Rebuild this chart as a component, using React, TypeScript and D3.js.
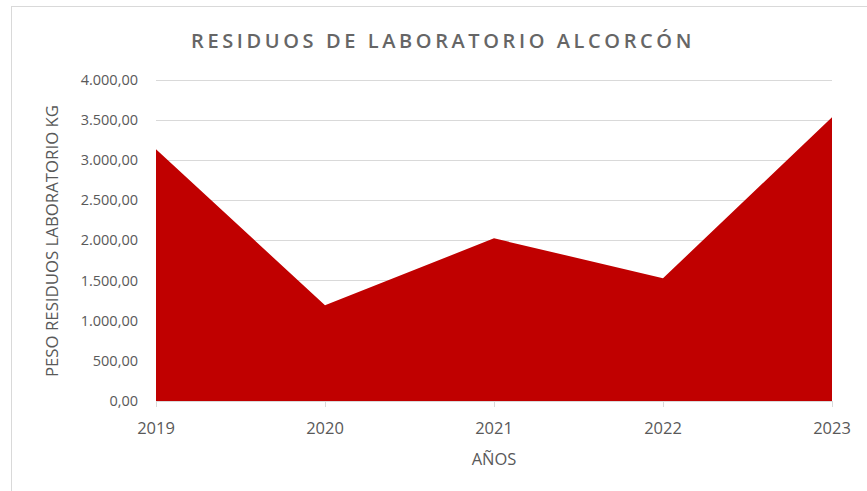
import React from "react";
import * as d3 from "d3";

const years = ["2019", "2020", "2021", "2022", "2023"];
const values = [3131, 1191, 2024, 1527, 3530];
const yTicks = [0, 500, 1000, 1500, 2000, 2500, 3000, 3500, 4000];
const titleText = "RESIDUOS DE LABORATORIO ALCORCÓN";
const xTitle = "AÑOS";
const yTitle = "PESO RESIDUOS LABORATORIO KG";

const W = 867;
const H = 491;
const plot = { left: 156, right: 832, top: 79.5, bottom: 401 };

const fmt = (v: number) => {
  const s = d3.format(",.2f")(v);
  return s.replace(/,/g, "#").replace(/\./g, ",").replace(/#/g, ".");
};

export default function App() {
  const x = d3.scalePoint<string>().domain(years).range([plot.left, plot.right]);
  const y = d3.scaleLinear().domain([0, 4000]).range([plot.bottom, plot.top]);
  const area = d3
    .area<number>()
    .x((_, i) => x(years[i]) as number)
    .y0(y(0))
    .y1((d) => y(d));
  const font = "'Open Sans', sans-serif";
  const gray = "#595959";
  return (
    <svg
      width={W}
      height={H}
      style={{ position: "absolute", left: 0, top: 0, background: "#fff" }}
    >
      <rect x={11.5} y={6.5} width={W} height={H} fill="#fff" stroke="#d9d9d9" strokeWidth={1} />
      <text
        x={443}
        y={48}
        textAnchor="middle"
        fontFamily={font}
        fontSize={20}
        fontWeight={600}
        letterSpacing={3.6}
        fill="#666666"
      >
        {titleText}
      </text>
      {yTicks.map((t) => (
        <g key={t}>
          {t > 0 && (
            <line
              x1={plot.left}
              x2={plot.right}
              y1={Math.round(y(t)) + 0.5}
              y2={Math.round(y(t)) + 0.5}
              stroke="#d9d9d9"
              strokeWidth={1}
            />
          )}
          <text
            x={138}
            y={y(t)}
            dy="0.35em"
            textAnchor="end"
            fontFamily={font}
            fontSize={14.5}
            fill={gray}
          >
            {fmt(t)}
          </text>
        </g>
      ))}
      <path d={area(values) as string} fill="#c00000" />
      <line x1={plot.left} x2={plot.right} y1={plot.bottom + 0.5} y2={plot.bottom + 0.5} stroke="#d9d9d9" />
      {years.map((yr) => (
        <g key={yr}>
          <line
            x1={(x(yr) as number) + 0.5}
            x2={(x(yr) as number) + 0.5}
            y1={plot.bottom}
            y2={plot.bottom + 6}
            stroke="#d9d9d9"
          />
          <text
            x={x(yr) as number}
            y={434}
            textAnchor="middle"
            fontFamily={font}
            fontSize={16.5}
            fill={gray}
          >
            {yr}
          </text>
        </g>
      ))}
      <text x={494} y={465} textAnchor="middle" fontFamily={font} fontSize={16.5} fill={gray}>
        {xTitle}
      </text>
      <text
        transform={`translate(58,241) rotate(-90)`}
        textAnchor="middle"
        fontFamily={font}
        fontSize={16.8}
        fill={gray}
      >
        {yTitle}
      </text>
    </svg>
  );
}
